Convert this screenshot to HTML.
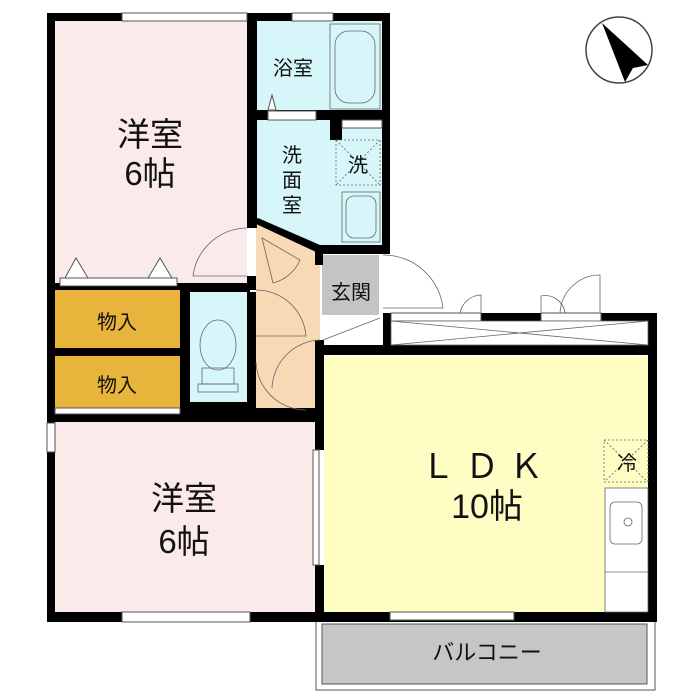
<!DOCTYPE html>
<html><head><meta charset="utf-8"><style>
html,body{margin:0;padding:0;background:#fff;width:700px;height:700px;overflow:hidden}
text{font-family:"Liberation Sans","Noto Sans CJK JP",sans-serif;fill:#111}
</style></head><body>
<svg width="700" height="700" viewBox="0 0 700 700" xmlns="http://www.w3.org/2000/svg">
<circle cx="619" cy="50" r="33" fill="none" stroke="#444" stroke-width="1.5"/>
<polygon points="602,23 648,65 633,68 625,82" fill="#000"/>

<rect x="55" y="20" width="192" height="265" fill="#fbeaea"/>
<rect x="256" y="20" width="127" height="92" fill="#d6f6fa"/>
<rect x="256" y="120" width="127" height="128" fill="#d6f6fa"/>
<polygon points="256,222 320,248 320,410 256,410" fill="#f7d9b5"/>
<rect x="322" y="255" width="57" height="60" fill="#c4c4c4"/>
<rect x="55" y="290" width="125" height="58" fill="#e8b43c"/>
<rect x="55" y="356" width="125" height="52" fill="#e8b43c"/>
<rect x="188" y="292" width="60" height="110" fill="#d6f6fa"/>
<rect x="55" y="422" width="260" height="190" fill="#fbeaea"/>
<rect x="324" y="356" width="324" height="256" fill="#fefdc4"/>
<rect x="322" y="624" width="325" height="60" fill="#c6c6c6" stroke="#555" stroke-width="1"/>
<rect x="316" y="620" width="339" height="70" fill="none" stroke="#555" stroke-width="1"/>

<g fill="#000">
<rect x="47" y="13" width="75" height="8"/>
<rect x="247" y="13" width="10" height="8"/>
<rect x="247" y="13" width="10" height="215"/>
<rect x="257" y="13" width="35" height="8"/>
<rect x="333" y="13" width="57" height="8"/>
<rect x="382" y="13" width="8" height="237"/>
<rect x="47" y="13" width="8" height="410"/>
<rect x="47" y="452" width="8" height="170"/>
<rect x="47" y="612" width="75" height="10"/>
<rect x="250" y="612" width="405" height="10"/>
<rect x="47" y="283" width="135" height="7"/>
<rect x="180" y="283" width="10" height="130"/>
<rect x="47" y="348" width="135" height="8"/>
<rect x="180" y="283" width="70" height="9"/>
<rect x="186" y="402" width="64" height="8"/>
<rect x="180" y="408" width="140" height="14"/>
<rect x="47" y="408" width="135" height="14"/>
<rect x="247" y="276" width="9" height="14"/>
<rect x="247" y="292" width="9" height="120"/>
<rect x="315" y="340" width="9" height="110"/>
<rect x="315" y="565" width="9" height="55"/>
<rect x="256" y="110" width="80" height="10"/>
<rect x="330" y="110" width="12" height="30"/>
<rect x="342" y="110" width="40" height="10"/>
<rect x="315" y="245" width="75" height="9"/>
<rect x="315" y="245" width="8" height="20"/>
<rect x="383" y="313" width="272" height="8"/>
<rect x="383" y="313" width="8" height="35"/>
<rect x="315" y="345" width="340" height="10"/>
<rect x="648" y="313" width="9" height="309"/>
</g>
<polygon points="252,222 258,218 320,245 316,252" fill="#000"/>
<g fill="#fff" stroke="#555" stroke-width="1">
<rect x="122" y="13" width="125" height="8"/>
<rect x="292" y="13" width="41" height="8"/>
<rect x="47" y="423" width="8" height="29"/>
<rect x="122" y="612" width="128" height="10"/>
<rect x="313" y="450" width="6" height="115"/>
<rect x="391" y="313" width="90" height="8"/>
<rect x="541" y="313" width="60" height="8"/>
<rect x="390" y="612" width="124" height="8"/>
<rect x="55" y="408" width="125" height="6"/>
<rect x="60" y="278" width="117" height="8"/>
<rect x="268" y="111" width="48" height="9"/>
<rect x="342" y="120" width="40" height="8"/>
</g>
<g stroke="#666" stroke-width="0.8" fill="none">
<rect x="391" y="321" width="257" height="24" fill="#fff"/>
<line x1="391" y1="321" x2="648" y2="345"/><line x1="391" y1="345" x2="648" y2="321"/>
<path d="M323 340 L380 318"/>
<path d="M247 228 A55 55 0 0 0 193 276 L247 276"/>
<path d="M256 290 A50 50 0 0 1 306 336 L256 336"/>
<path d="M256 362 A50 50 0 0 0 306 410"/>
<path d="M320 340 A50 50 0 0 0 272 388"/>
<path d="M383 255 A60 60 0 0 1 443 308 L383 308"/>
<path d="M460 313 A22 22 0 0 1 481 295 L481 313"/>
<path d="M565 313 A20 20 0 0 0 541 296 L541 313"/>
<path d="M560 313 A40 40 0 0 1 600 275 L600 313"/>
<path d="M262 238 L300 260 A40 40 0 0 1 273 283 Z"/>
<rect x="330" y="24" width="50" height="85"/>
<rect x="335" y="31" width="40" height="72" rx="14"/>
<rect x="336" y="140" width="44" height="45" stroke-dasharray="2,2"/>
<line x1="336" y1="140" x2="380" y2="185" stroke-dasharray="2,2"/>
<line x1="380" y1="140" x2="336" y2="185" stroke-dasharray="2,2"/>
<rect x="342" y="192" width="38" height="50"/>
<rect x="346" y="196" width="30" height="42" rx="8"/>
<ellipse cx="218" cy="345" rx="18" ry="25"/>
<rect x="202" y="368" width="32" height="16"/>
<rect x="198" y="384" width="40" height="8"/>
<rect x="604" y="440" width="44" height="42" stroke-dasharray="2,2"/>
<line x1="604" y1="440" x2="648" y2="482" stroke-dasharray="2,2"/>
<line x1="648" y1="440" x2="604" y2="482" stroke-dasharray="2,2"/>
<rect x="605" y="488" width="43" height="124" fill="#fff"/>
<rect x="610" y="502" width="32" height="42" rx="5"/>
<circle cx="628" cy="522" r="4"/>
<line x1="605" y1="572" x2="648" y2="572"/>
</g>
<g fill="#fff" stroke="#555" stroke-width="1">
<polygon points="65,278 76,258 88,278"/><polygon points="148,278 160,258 172,278"/>
<polygon points="268,110 272,95 276,110"/>
</g>

<text x="150" y="146" font-size="33" text-anchor="middle">洋室</text>
<text x="150" y="185" font-size="33" text-anchor="middle">6帖</text>
<text x="293" y="75" font-size="20" text-anchor="middle">浴室</text>
<text x="292" y="162" font-size="20" text-anchor="middle">洗</text>
<text x="292" y="187" font-size="20" text-anchor="middle">面</text>
<text x="292" y="212" font-size="20" text-anchor="middle">室</text>
<text x="358" y="172" font-size="20" text-anchor="middle">洗</text>
<text x="351" y="299" font-size="20" text-anchor="middle">玄関</text>
<text x="117" y="329" font-size="20" text-anchor="middle">物入</text>
<text x="117" y="392" font-size="20" text-anchor="middle">物入</text>
<text x="184" y="510" font-size="33" text-anchor="middle">洋室</text>
<text x="184" y="553" font-size="33" text-anchor="middle">6帖</text>
<text x="487" y="478" font-size="34" text-anchor="middle" letter-spacing="10">ＬＤＫ</text>
<text x="487" y="518" font-size="34" text-anchor="middle">10帖</text>
<text x="627" y="470" font-size="20" text-anchor="middle">冷</text>
<text x="487" y="660" font-size="22" text-anchor="middle">バルコニー</text>
</svg>
</body></html>
